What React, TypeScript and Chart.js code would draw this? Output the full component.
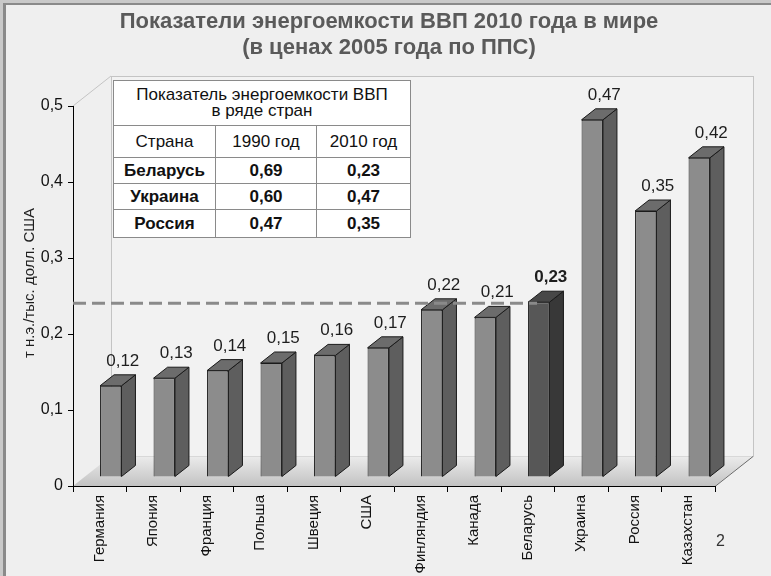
import React, { useEffect, useRef } from 'react';
import { Chart, registerables } from 'chart.js';

Chart.register(...registerables);

// ---------- data ----------
const titleLines = ['Показатели энергоемкости ВВП 2010 года в мире', '(в ценах 2005 года по ППС)'];
const categories = ['Германия', 'Япония', 'Франция', 'Польша', 'Швеция', 'США', 'Финляндия', 'Канада', 'Беларусь', 'Украина', 'Россия', 'Казахстан'];
const values = [0.12, 0.13, 0.14, 0.15, 0.16, 0.17, 0.22, 0.21, 0.23, 0.47, 0.35, 0.42];
const valueLabels = ['0,12', '0,13', '0,14', '0,15', '0,16', '0,17', '0,22', '0,21', '0,23', '0,47', '0,35', '0,42'];
const highlightIndex = 8; // Беларусь
const yTickLabels = ['0', '0,1', '0,2', '0,3', '0,4', '0,5'];
const yTitle = 'т н.э./тыс. долл. США';
const pageNumber = '2';

const tableTitle = ['Показатель энергоемкости ВВП', 'в ряде стран'];
const tableHeader = ['Страна', '1990 год', '2010 год'];
const tableCountries = ['Беларусь', 'Украина', 'Россия'];
const table1990 = ['0,69', '0,60', '0,47'];
const table2010 = ['0,23', '0,47', '0,35'];

// ---------- styling constants ----------
const FONT = "'Liberation Sans', Arial, sans-serif";
const SHIFT_X = 11; // bar plane offset
const SHIFT_Y = -9;
const DEPTH_X = 14; // bar depth
const DEPTH_Y = -11;
const WALL_X = 38; // chart box depth
const WALL_Y = -30;

const threeDPlugin = {
  id: 'threeD',
  beforeDraw(chart: any) {
    const { ctx, chartArea } = chart;
    const { left: L, right: R, top: T, bottom: B } = chartArea;
    ctx.save();
    ctx.fillStyle = '#efefef';
    ctx.fillRect(0, 0, chart.width, chart.height);
    // frame
    ctx.fillStyle = '#c9c9c9';
    ctx.fillRect(0, 0, chart.width, 3);
    ctx.fillRect(0, 0, 3, chart.height);
    ctx.fillStyle = '#8a8a8a';
    ctx.fillRect(3, 3, chart.width - 3, 2);
    ctx.fillRect(3, 3, 3, chart.height - 3);

    // back wall
    ctx.fillStyle = '#f2f2f2';
    ctx.fillRect(L + WALL_X, T + WALL_Y, R - L, B - T);
    ctx.strokeStyle = '#c4c4c4';
    ctx.lineWidth = 1;
    ctx.strokeRect(L + WALL_X + 0.5, T + WALL_Y + 0.5, R - L, B - T);
    // left wall top edge
    ctx.beginPath();
    ctx.moveTo(L, T);
    ctx.lineTo(L + WALL_X, T + WALL_Y);
    ctx.stroke();

    // floor
    const g = ctx.createLinearGradient(0, B, 0, B + WALL_Y);
    g.addColorStop(0, '#c2c2c2');
    g.addColorStop(1, '#ececec');
    ctx.fillStyle = g;
    ctx.beginPath();
    ctx.moveTo(L, B);
    ctx.lineTo(R, B);
    ctx.lineTo(R + WALL_X, B + WALL_Y);
    ctx.lineTo(L + WALL_X, B + WALL_Y);
    ctx.closePath();
    ctx.fill();
    ctx.strokeStyle = '#d8d8d8';
    ctx.beginPath();
    ctx.moveTo(L + WALL_X, B + WALL_Y + 0.5);
    ctx.lineTo(R + WALL_X, B + WALL_Y + 0.5);
    ctx.stroke();
    ctx.strokeStyle = '#6a6a6a';
    ctx.beginPath();
    ctx.moveTo(R, B + 0.5);
    ctx.lineTo(R + WALL_X, B + WALL_Y + 0.5);
    ctx.stroke();
    ctx.restore();
  },
  beforeDatasetsDraw(chart: any) {
    const { ctx } = chart;
    ctx.save();
    ctx.translate(SHIFT_X, SHIFT_Y);
  },
  afterDatasetsDraw(chart: any) {
    const { ctx, chartArea, scales } = chart;
    const meta = chart.getDatasetMeta(0);
    meta.data.forEach((bar: any, i: number) => {
      const { x, y, base, width } = bar.getProps(['x', 'y', 'base', 'width'], true);
      const r = x + width / 2;
      const l = x - width / 2;
      const hi = i === highlightIndex;
      ctx.lineWidth = 1;
      ctx.strokeStyle = '#1a1a1a';
      ctx.lineJoin = 'round';
      // side
      ctx.fillStyle = hi ? '#383838' : '#5e5e5e';
      ctx.beginPath();
      ctx.moveTo(r, y);
      ctx.lineTo(r + DEPTH_X, y + DEPTH_Y);
      ctx.lineTo(r + DEPTH_X, base + DEPTH_Y);
      ctx.lineTo(r, base);
      ctx.closePath();
      ctx.fill();
      ctx.stroke();
      // top
      ctx.fillStyle = hi ? '#484848' : '#6c6c6c';
      ctx.beginPath();
      ctx.moveTo(l, y);
      ctx.lineTo(l + DEPTH_X, y + DEPTH_Y);
      ctx.lineTo(r + DEPTH_X, y + DEPTH_Y);
      ctx.lineTo(r, y);
      ctx.closePath();
      ctx.fill();
      ctx.stroke();
    });
    ctx.restore();

    // reference dashed line at Беларусь level
    const hb = meta.data[highlightIndex];
    const refY = scales.y.getPixelForValue(values[highlightIndex]) + SHIFT_Y + 1;
    ctx.save();
    ctx.strokeStyle = '#8a8a8a';
    ctx.lineWidth = 3;
    ctx.setLineDash([13, 6]);
    ctx.beginPath();
    ctx.moveTo(chartArea.left, refY);
    ctx.lineTo(hb.x + SHIFT_X - hb.width / 2 + 9, refY);
    ctx.stroke();
    ctx.restore();

    // value labels
    ctx.save();
    ctx.textAlign = 'center';
    ctx.textBaseline = 'alphabetic';
    ctx.fillStyle = '#1e1e1e';
    meta.data.forEach((bar: any, i: number) => {
      ctx.font = (i === highlightIndex ? 'bold ' : '') + '17px ' + FONT;
      ctx.fillText(valueLabels[i], bar.x + SHIFT_X + 12, bar.y + SHIFT_Y - 20);
    });
    ctx.restore();
  },
  afterDraw(chart: any) {
    const { ctx } = chart;
    ctx.save();
    ctx.translate(30, 283);
    ctx.rotate(-Math.PI / 2);
    ctx.textAlign = 'center';
    ctx.textBaseline = 'middle';
    ctx.fillStyle = '#1e1e1e';
    ctx.font = '15px ' + FONT;
    ctx.fillText(yTitle, 0, 0);
    ctx.restore();
  },
};

export default function App() {
  const canvasRef = useRef<HTMLCanvasElement | null>(null);

  useEffect(() => {
    if (!canvasRef.current) return;
    const chart = new Chart(canvasRef.current, {
      type: 'bar',
      data: {
        labels: categories,
        datasets: [
          {
            data: values,
            backgroundColor: values.map((_, i) => (i === highlightIndex ? '#575757' : '#8c8c8c')),
            borderColor: '#1a1a1a',
            borderWidth: 1,
            categoryPercentage: 1,
            barPercentage: 0.4,
            clip: false as any,
          },
        ],
      },
      options: {
        animation: false,
        responsive: false,
        maintainAspectRatio: false,
        events: [],
        layout: { padding: { left: 0, right: 56, top: 106, bottom: 0 } },
        plugins: {
          legend: { display: false },
          tooltip: { enabled: false },
          title: { display: false },
        },
        scales: {
          x: {
            grid: { display: true, drawOnChartArea: false, drawTicks: true, tickLength: 6, tickColor: '#000', offset: true },
            border: { color: '#000', width: 1 },
            ticks: {
              autoSkip: false,
              maxRotation: 90,
              minRotation: 90,
              padding: 3,
              color: '#111',
              font: { family: FONT, size: 15 },
            },
            afterFit: (s: any) => {
              s.height = 90;
            },
          },
          y: {
            min: 0,
            max: 0.5,
            ticks: {
              stepSize: 0.1,
              padding: 5,
              color: '#111',
              font: { family: FONT, size: 16 },
              callback: (v: any) => yTickLabels[Math.round(Number(v) * 10)],
            },
            grid: { drawOnChartArea: false, tickLength: 5, tickColor: '#000' },
            border: { color: '#000', width: 1 },
            afterFit: (s: any) => {
              s.width = 73;
            },
          },
        },
      },
      plugins: [threeDPlugin],
    } as any);
    return () => chart.destroy();
  }, []);

  const cell: React.CSSProperties = {
    border: '1px solid #8a8a8a',
    textAlign: 'center',
    padding: 0,
    fontSize: 17,
    color: '#111',
    whiteSpace: 'nowrap',
  };

  return (
    <div style={{ position: 'fixed', left: 0, top: 0, width: 771, height: 576, overflow: 'hidden', fontFamily: FONT }}>
      <canvas ref={canvasRef} width={771} height={576} style={{ position: 'absolute', left: 0, top: 0, width: 771, height: 576 }} />
      <div
        style={{
          position: 'absolute',
          left: 0,
          top: 8,
          width: 778,
          textAlign: 'center',
          fontSize: 22,
          fontWeight: 'bold',
          lineHeight: '26px',
          color: '#5a5a5a',
        }}
      >
        {titleLines.map((t) => (
          <div key={t}>{t}</div>
        ))}
      </div>
      <table
        style={{
          position: 'absolute',
          left: 113,
          top: 80,
          width: 297,
          borderCollapse: 'collapse',
          background: '#ffffff',
          tableLayout: 'fixed',
        }}
      >
        <colgroup>
          <col style={{ width: 102 }} />
          <col style={{ width: 101 }} />
          <col style={{ width: 94 }} />
        </colgroup>
        <tbody>
          <tr style={{ height: 45 }}>
            <td colSpan={3} style={{ ...cell, lineHeight: '16px' }}>
              {tableTitle[0]}
              <br />
              {tableTitle[1]}
            </td>
          </tr>
          <tr style={{ height: 32 }}>
            {tableHeader.map((h) => (
              <td key={h} style={cell}>
                {h}
              </td>
            ))}
          </tr>
          {tableCountries.map((c, i) => (
            <tr key={c} style={{ height: i === 2 ? 28 : 26 }}>
              <td style={{ ...cell, fontWeight: 'bold' }}>{c}</td>
              <td style={{ ...cell, fontWeight: 'bold' }}>{table1990[i]}</td>
              <td style={{ ...cell, fontWeight: 'bold' }}>{table2010[i]}</td>
            </tr>
          ))}
        </tbody>
      </table>
      <div style={{ position: 'absolute', left: 716, top: 532, fontSize: 16, color: '#333' }}>{pageNumber}</div>
    </div>
  );
}
